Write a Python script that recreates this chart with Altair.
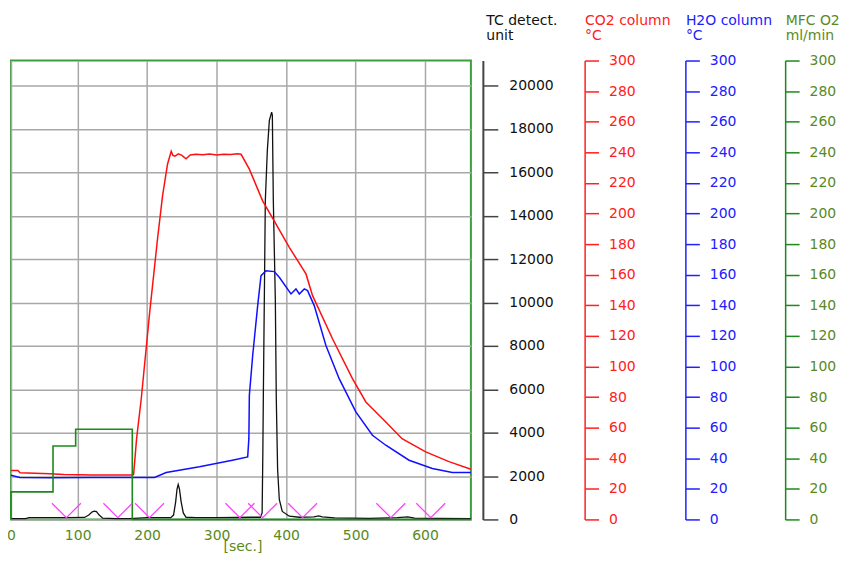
import altair as alt
import pandas as pd

# ---------------- data ----------------
co2_sec = [4, 14, 17, 60, 80, 120, 179, 180.5, 184.8, 191.5, 203.4, 214.9, 222.1, 229.3, 234.6,
           237, 240, 245, 250, 256, 262, 270, 280, 290, 300, 310, 320, 330, 335.2,
           347.1, 366.2, 385.5, 404.6, 428.6, 438.1, 466.8, 495.5, 514.8, 543.5, 566.9,
           601, 634.5, 666]
co2_val = [32, 32, 30.5, 29.8, 29.3, 29.0, 29.0, 29.4, 52.8, 78.9, 134.4, 183.3, 211.4, 232.2, 240.7,
           238, 237.5, 239, 238, 235.8, 238.2, 238.8, 238.4, 238.9, 238.3, 238.8, 238.5, 239, 238.7,
           229, 208.3, 193.1, 177.9, 160.5, 146.3, 118.1, 92, 76.8, 63.7, 52.8,
           44.2, 37.8, 32.8]

h2o_sec = [4, 16.7, 60, 120, 210.6, 227.4, 275.3, 322.7, 344.7, 346.4, 347.1, 351.9, 359.1,
           363.9, 371.1, 383.0, 390.2, 407.0, 414.2, 419.0, 426.2, 430.9, 440.5, 457.3,
           476.4, 500.4, 524.3, 543.5, 577.0, 610.5, 639.2, 666]
h2o_val = [28.9, 27.4, 27.2, 27.4, 27.4, 30.7, 34.4, 38.7, 40.9, 52.8, 81.1, 107.2, 139.8,
           159.4, 162.6, 162.0, 158.3, 147.4, 150.7, 147.4, 150.7, 149.6, 139.8, 113.7,
           92, 70.3, 55, 48.5, 38.7, 33.3, 30.7, 30.7]

mfc_sec = [4, 4, 64.5, 64.5, 97.1, 97.1, 178.6, 178.6, 666]
mfc_val = [0, 18, 18, 48, 48, 59, 59, 0, 0]

tc_sec = [4, 25, 30, 60, 85, 110, 116, 121, 124, 127, 131, 136, 155, 175, 200, 225, 234,
          238, 241, 243, 244.7, 246.5, 249, 252, 256, 270, 300, 330, 350, 363,
          365.5, 366.5, 367.2, 370.1, 373, 375.9, 379.2, 380.2, 381.6, 384.5, 385.9,
          387.8, 390.2, 394.5, 404.6, 419, 440, 447, 452, 470, 520, 560, 575, 585, 620, 666]
tc_val = [40, 40, 80, 80, 80, 90, 200, 350, 380, 360, 200, 60, 40, 40, 80, 80, 80,
          200, 800, 1400, 1610, 1400, 800, 300, 100, 80, 80, 90, 100, 100,
          300, 3000, 5517, 14713, 17011, 18391, 18772, 18621, 14713, 10115, 5517,
          2299, 920, 368, 150, 100, 120, 160, 120, 70, 50, 80, 120, 60, 50, 40]

marker_sec = [83.8, 157.9, 203.4, 333.5, 366.2, 423.7, 550.7, 608.2]
marker_val = [80, 80, 80, 80, 80, 80, 80, 80]

x_ticks = [4, 100, 200, 300, 400, 500, 600]
temp_ticks = list(range(0, 301, 20))
tc_ticks = list(range(0, 20001, 2000))

# ---------------- tables ----------------
co2_df = pd.DataFrame({"sec": co2_sec, "v": co2_val, "i": range(len(co2_sec))})
h2o_df = pd.DataFrame({"sec": h2o_sec, "v": h2o_val, "i": range(len(h2o_sec))})
mfc_df = pd.DataFrame({"sec": mfc_sec, "v": mfc_val, "i": range(len(mfc_sec))})
tc_df = pd.DataFrame({"sec": tc_sec, "v": tc_val, "i": range(len(tc_sec))})
mk_df = pd.DataFrame({"sec": marker_sec, "v": marker_val})

FONT = "DejaVu Sans"
FS = 14
OLIVE = "#5a8a1e"
GRID = "#a8a8a8"

x_enc = alt.X(
    "sec:Q",
    scale=alt.Scale(domain=[4, 666], nice=False, zero=False),
    axis=alt.Axis(
        values=x_ticks, format="d",
        labelExpr="datum.value < 50 ? '0' : datum.label",
        grid=True, gridColor=GRID, gridWidth=1.5, gridOpacity=1,
        ticks=False, domain=False, labelPadding=9, labelFlush=False,
        labelFont=FONT, labelFontSize=FS, labelColor=OLIVE,
        title="[sec.]", titleFont=FONT, titleFontSize=FS, titleFontWeight="normal",
        titleColor=OLIVE, titleX=232, titleY=31, titleBaseline="alphabetic",
        titleAlign="center",
    ),
)


def temp_axis(color, offset, title, label_color=None):
    lc = label_color or color
    return alt.Axis(
        orient="right", offset=offset, values=temp_ticks, format="d", grid=False,
        domainColor=color, domainWidth=1.5, tickColor=color, tickSize=14, tickWidth=1.5,
        labelColor=lc, labelFont=FONT, labelFontSize=FS, labelPadding=10,
        labelOverlap=False, labelFlush=False,
        title=title, titleColor=lc, titleFont=FONT, titleFontSize=FS,
        titleFontWeight="normal", titleAngle=0, titleAlign="left", titleBaseline="top",
        titleX=0, titleY=-47, titleLineHeight=15,
    )


temp_scale = dict(domain=[0, 300], nice=False, zero=True)

mfc = alt.Chart(mfc_df).mark_line(color="#1a8a1a", strokeWidth=1.6).encode(
    x=x_enc,
    y=alt.Y("v:Q", scale=alt.Scale(**temp_scale),
            axis=temp_axis("#1a8a1a", 315, ["MFC O2", "ml/min"], OLIVE)),
    order="i:Q",
)

co2 = alt.Chart(co2_df).mark_line(color="#ff1010", strokeWidth=1.5).encode(
    x=x_enc,
    y=alt.Y("v:Q", scale=alt.Scale(**temp_scale),
            axis=temp_axis("#ff2020", 114, ["CO2 column", "°C"])),
    order="i:Q",
)

h2o = alt.Chart(h2o_df).mark_line(color="#1010ff", strokeWidth=1.5).encode(
    x=x_enc,
    y=alt.Y("v:Q", scale=alt.Scale(**temp_scale),
            axis=temp_axis("#2020ff", 215, ["H2O column", "°C"])),
    order="i:Q",
)

tc = alt.Chart(tc_df).mark_line(color="#111111", strokeWidth=1.3).encode(
    x=x_enc,
    y=alt.Y("v:Q", scale=alt.Scale(domain=[0, 21150], nice=False, zero=True),
            axis=alt.Axis(
                orient="right", offset=12, values=tc_ticks, format="d",
                grid=True, gridColor=GRID, gridWidth=1.5, gridOpacity=1,
                domainColor="#444444", domainWidth=2, tickColor="#444444", tickSize=15,
                tickWidth=1.5, labelColor="#111111", labelFont=FONT, labelFontSize=FS,
                labelPadding=11, labelOverlap=False, labelFlush=False,
                title=["TC detect.", "unit"], titleColor="#111111", titleFont=FONT,
                titleFontSize=FS, titleFontWeight="normal", titleAngle=0,
                titleAlign="left", titleBaseline="top", titleX=3, titleY=-47,
                titleLineHeight=15,
            )),
    order="i:Q",
)

markers = alt.Chart(mk_df).mark_point(
    shape="M -1 -1 L 0 0 L 1 -1", size=841, filled=False,
    stroke="#ff40ff", strokeWidth=1.3, opacity=1,
).encode(
    x=x_enc,
    y=alt.Y("v:Q", scale=alt.Scale(domain=[0, 21150], nice=False, zero=True), axis=None),
)

chart = (
    alt.layer(tc, co2, h2o, mfc, markers)
    .resolve_scale(y="independent")
    .properties(
        width=461, height=460,
        autosize=alt.AutoSizeParams(type="none"),
        padding={"left": 3, "top": 52, "right": 374, "bottom": 34},
        background="white",
    )
    .configure_view(stroke="#3c9e3c", strokeWidth=2)
)

chart.save("out.html", embed_options={"renderer": "svg", "actions": False})
